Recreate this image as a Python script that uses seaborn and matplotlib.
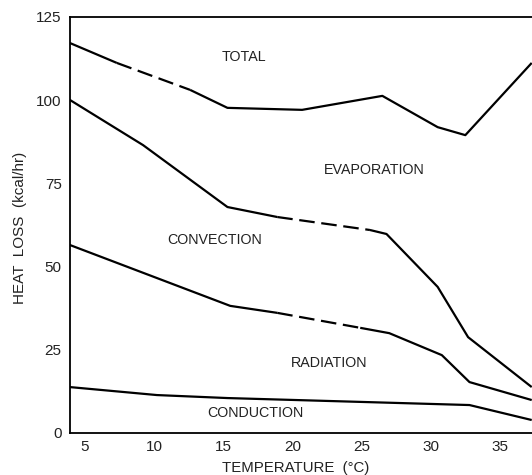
import matplotlib
matplotlib.use("Agg")
import matplotlib.pyplot as plt
import seaborn as sns
import pandas as pd

# Temperature (deg C) and heat loss (kcal/hr) along each boundary curve
total_t = [3.9, 7.3, 12.6, 15.3, 20.7, 26.5, 30.5, 32.5, 37.3]
total_v = [117.2, 111.2, 103.1, 97.7, 97.1, 101.3, 91.9, 89.5, 111.2]
total_dashed = [1]          # segment indices drawn dashed

evap_t = [3.9, 9.2, 15.3, 18.9, 25.6, 26.8, 30.5, 32.7, 37.3]
evap_v = [100.1, 86.5, 67.9, 64.9, 61.0, 59.8, 43.9, 28.8, 13.8]
evap_dashed = [3]

rad_t = [3.9, 15.5, 18.9, 24.9, 27.0, 30.8, 32.8, 37.3]
rad_v = [56.5, 38.2, 36.1, 31.6, 30.0, 23.4, 15.3, 9.9]
rad_dashed = [2]

cond_t = [3.9, 10.2, 15.3, 32.8, 37.3]
cond_v = [13.8, 11.4, 10.5, 8.4, 3.9]
cond_dashed = []

region_labels = ["TOTAL", "EVAPORATION", "CONVECTION", "RADIATION", "CONDUCTION"]
region_t = [16.46, 25.9, 14.4, 22.64, 17.29]
region_v = [113.0, 79.0, 58.0, 21.0, 6.0]

x_ticks = [5, 10, 15, 20, 25, 30, 35]
y_ticks = [0, 25, 50, 75, 100, 125]


def split_runs(name, t, v, dashed):
    """Break a curve into runs of solid / dashed segments."""
    rows = []
    run = 0
    style = "dashed" if 0 in dashed else "solid"
    rows.append((f"{name}-{run}", style, t[0], v[0]))
    for i in range(len(t) - 1):
        seg_style = "dashed" if i in dashed else "solid"
        if seg_style != style:
            run += 1
            style = seg_style
            rows.append((f"{name}-{run}", style, t[i], v[i]))
        rows.append((f"{name}-{run}", style, t[i + 1], v[i + 1]))
    return rows


rows = []
rows += split_runs("total", total_t, total_v, total_dashed)
rows += split_runs("evap", evap_t, evap_v, evap_dashed)
rows += split_runs("rad", rad_t, rad_v, rad_dashed)
rows += split_runs("cond", cond_t, cond_v, cond_dashed)
df = pd.DataFrame(rows, columns=["run", "kind", "temp", "loss"])

sns.set_style("white")
plt.rcParams["font.family"] = ["Liberation Sans", "DejaVu Sans"]

W, H = 532, 475
fig = plt.figure(figsize=(W / 100, H / 100), dpi=100)
ax = fig.add_axes([70 / W, 42 / H, (541.4 - 70) / W, 416 / H])

sns.lineplot(
    data=df, x="temp", y="loss", units="run", estimator=None, sort=False,
    style="kind", dashes={"solid": "", "dashed": (7, 3)},
    color="black", linewidth=1.6, legend=False, ax=ax,
)
for line in ax.get_lines():
    line.set_solid_joinstyle("round")
    line.set_solid_capstyle("butt")

ax.set_xlim(3.915, 38.0)
ax.set_ylim(0, 125)
ax.set_xticks(x_ticks)
ax.set_yticks(y_ticks)
ax.set_xticklabels([str(x) for x in x_ticks], fontsize=11, color="#222222")
ax.set_yticklabels([str(y) for y in y_ticks], fontsize=11, color="#222222")
ax.tick_params(axis="both", length=0)
ax.tick_params(axis="x", pad=5)
ax.tick_params(axis="y", pad=6)
ax.set_xlabel("")
ax.set_ylabel("")

for side in ["left", "bottom", "top"]:
    ax.spines[side].set_visible(True)
    ax.spines[side].set_color("black")
    ax.spines[side].set_linewidth(1.3)
ax.spines["right"].set_visible(False)

for label, t, v in zip(region_labels, region_t, region_v):
    ax.text(t, v, label, ha="center", va="center", fontsize=10.3, color="#222222")

fig.text(296 / W, 1 - 468 / H, "TEMPERATURE  (°C)", ha="center", va="center",
         fontsize=10.8, color="#222222")
fig.text(20 / W, 1 - 228 / H, "HEAT  LOSS  (kcal/hr)", ha="center", va="center",
         rotation=90, fontsize=11, color="#222222")

fig.savefig("out.png", dpi=100)
